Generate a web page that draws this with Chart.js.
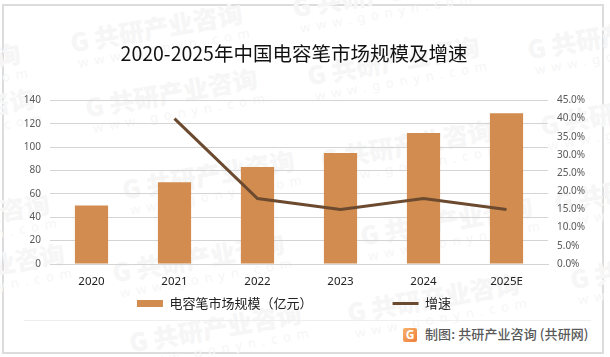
<!DOCTYPE html>
<html lang="zh-CN">
<head>
<meta charset="UTF-8">
<title>2020-2025年中国电容笔市场规模及增速</title>
<script src="https://cdn.jsdelivr.net/npm/chart.js"></script>
<style>
  html, body { margin: 0; padding: 0; background: #fff; }
  .quadro { position: relative; width: 610px; height: 357px; overflow: hidden; }
  .borda { position: absolute; left: 2px; top: 4px; width: 598px; height: 346px; border: 2px solid #dcdcdc; }
  .linha-rodape { position: absolute; left: 24px; top: 320px; width: 567px; height: 1px; background: #eeeeee; }
  .marca { position: absolute; color: #f6f6f6; transform: rotate(-10deg); transform-origin: left top; white-space: nowrap; font-family: "Noto Sans CJK SC", sans-serif; }
  .marca b { display: block; font-size: 25px; line-height: 28px; font-weight: 900; letter-spacing: 0; }
  .marca span { display: block; font-size: 13px; line-height: 16px; letter-spacing: 6px; margin-left: 4px; font-family: "Noto Sans", sans-serif; }
  .logo { position: absolute; left: 403px; top: 328px; width: 14px; height: 14px; border-radius: 2px; background: linear-gradient(135deg, #f6b26b, #ee7d3a); color: #fff; font: bold 12px/14px "Noto Sans", sans-serif; text-align: center; }
  .fonte { position: absolute; left: 425px; top: 325px; font: 500 13px/18px "Noto Sans CJK SC", sans-serif; color: #595959; white-space: nowrap; letter-spacing: .1px; }
  .grafico { position: absolute; left: 0; top: 0; width: 610px; height: 357px; }
</style>
</head>
<body>
<div class="quadro">
  <div class="borda"></div>
  <div id="marcas"></div>
  <div class="linha-rodape"></div>
  <div class="logo">G</div>
  <div class="fonte">制图: 共研产业咨询 (共研网)</div>
  <div class="grafico"><canvas id="grafico"></canvas></div>
</div>

<script>
  // Dados
  const anos = ['2020', '2021', '2022', '2023', '2024', '2025E'];
  const mercado = [50, 70, 83, 95, 112, 129];
  const crescimento = [null, 40, 18, 15, 18, 15];

  const tituloGrafico = '2020-2025年中国电容笔市场规模及增速';
  const nomeMercado = '电容笔市场规模（亿元）';
  const nomeCrescimento = '增速';

  // Marca d'agua de fundo
  const marcaX = [68, 83, 120, 110, 127, 305, 318, 358, 345, 290, 525, 538, 552, 568, -154, -140, -125, -110];
  const marcaY = [50, 115, 197, 280, 350, 83, 167, 243, 320, 15, 57, 133, 210, 287, 90, 135, 240, 290];

  const marcas = document.getElementById('marcas');
  marcaX.forEach((x, i) => {
    const el = document.createElement('div');
    el.className = 'marca';
    el.style.left = x + 'px';
    el.style.top = (marcaY[i] - 22) + 'px';
    el.innerHTML = '<b>G 共研产业咨询</b><span>www.gonyn.com</span>';
    marcas.appendChild(el);
  });

  const fonteNum = '"Noto Sans", sans-serif';
  const fonteCjk = '"Noto Sans CJK SC", sans-serif';

  new Chart(document.getElementById('grafico'), {
    type: 'bar',
    data: {
      labels: anos,
      datasets: [
        {
          type: 'line',
          label: nomeCrescimento,
          data: crescimento,
          yAxisID: 'y1',
          borderColor: '#6b4a2f',
          backgroundColor: '#6b4a2f',
          borderWidth: 3,
          pointRadius: 0,
          tension: 0,
          order: 1
        },
        {
          label: nomeMercado,
          data: mercado,
          yAxisID: 'y',
          backgroundColor: '#d28c4f',
          barPercentage: 0.8,
          categoryPercentage: 0.5,
          order: 2
        }
      ]
    },
    options: {
      responsive: true,
      maintainAspectRatio: false,
      animation: false,
      layout: { padding: { top: 0, bottom: 37, left: 0, right: 22 } },
      plugins: {
        title: {
          display: true,
          text: tituloGrafico,
          color: '#111111',
          font: { family: fonteCjk, size: 19.5, weight: 'normal' },
          padding: { top: 42, bottom: 35 }
        },
        legend: {
          position: 'bottom',
          reverse: true,
          labels: {
            color: '#222222',
            font: { family: fonteCjk, size: 13 },
            usePointStyle: true,
            pointStyleWidth: 26,
            boxHeight: 7,
            padding: 6,
            generateLabels(chart) {
              const itens = Chart.defaults.plugins.legend.labels.generateLabels(chart);
              itens.forEach(item => {
                item.pointStyle = item.text === nomeCrescimento ? 'line' : 'rect';
                // espaco largo entre os dois itens da legenda
                if (item.text === nomeMercado) item.text += '\u3000\u3000\u3000\u3000\u3000\u3000\u2009';
              });
              return itens;
            }
          }
        },
        tooltip: { enabled: false }
      },
      scales: {
        x: {
          afterFit(s) { s.height = 27; },
          grid: { display: false, drawTicks: false },
          border: { color: '#d4d4d4', width: 1 },
          ticks: { color: '#222222', font: { family: fonteNum, size: 11.5 }, padding: 11 }
        },
        y: {
          position: 'left',
          min: 0,
          max: 140,
          afterFit(s) { s.width = 50; },
          grid: { color: '#d4d4d4', lineWidth: 1, drawTicks: false },
          border: { display: false },
          ticks: { stepSize: 20, color: '#595959', font: { family: fonteNum, size: 10 }, padding: 9 }
        },
        y1: {
          position: 'right',
          min: 0,
          max: 45,
          afterFit(s) { s.width = 40; },
          grid: { display: false, drawTicks: false },
          border: { display: false },
          ticks: {
            stepSize: 5,
            color: '#595959',
            font: { family: fonteNum, size: 10 },
            padding: 9,
            callback: v => v.toFixed(1) + '%'
          }
        }
      }
    }
  });
</script>
</body>
</html>
